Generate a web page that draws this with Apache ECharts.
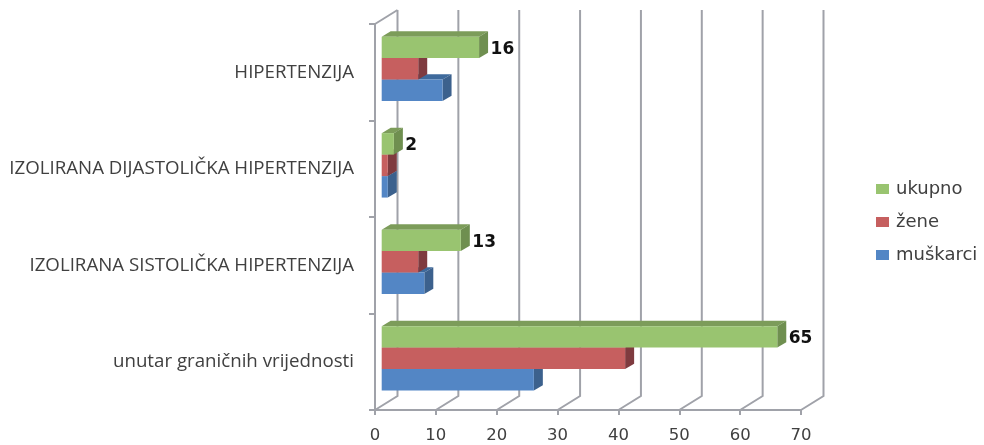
<!DOCTYPE html>
<html><head><meta charset="utf-8">
<script src="https://cdn.jsdelivr.net/npm/echarts@6/dist/echarts.min.js"></script>
<style>html,body{margin:0;padding:0;background:#fff}#c{width:984px;height:445px}</style>
</head><body><div id="c"></div>
<script>
const categories = ['unutar graničnih vrijednosti','IZOLIRANA SISTOLIČKA HIPERTENZIJA','IZOLIRANA DIJASTOLIČKA HIPERTENZIJA','HIPERTENZIJA'];
const muskarci = [25, 7, 1, 10];
const zene = [40, 6, 1, 6];
const ukupno = [65, 13, 2, 16];
const xTicks = [0,10,20,30,40,50,60,70];

const chart = echarts.init(document.getElementById('c'), null, {renderer:'canvas'});
const GRID = '#a0a2a9';
const styles = {
  'muškarci': {front:'#5386C5', top:'#3E6A9C', side:'#3C618D', slot:1},
  'žene': {front:'#C65F5F', top:'#9A4A4A', side:'#7F3B3F', slot:0},
  'ukupno': {front:'#99C470', top:'#7C9C5A', side:'#6F8F50', slot:-1, label:true}
};
function barRender(name){
  const s = styles[name];
  return function(params, api){
    const idx = api.value(1), v = api.value(0);
    const band = api.size([0,1])[1];
    const h = band*0.2225;
    const x0 = api.coord([0,idx])[0]+6.7;
    const x1 = api.coord([v,idx])[0]+6.7;
    const cy = api.coord([0,idx])[1]-3.4;
    const y0 = cy + h*(s.slot-0.5);
    const y1 = y0+h;
    const dx=9, dy=-5.3;
    const children = [
      {type:'polygon',shape:{points:[[x0,y0],[x1,y0],[x1+dx,y0+dy],[x0+dx,y0+dy]]},style:{fill:s.top}},
      {type:'polygon',shape:{points:[[x1,y0],[x1+dx,y0+dy],[x1+dx,y1+dy],[x1,y1]]},style:{fill:s.side}},
      {type:'rect',shape:{x:x0,y:y0,width:x1-x0,height:h},style:{fill:s.front}}
    ];
    if(s.label) children.push({type:'text',x:x1+dx+2.5,y:y0+h/2+2,style:{text:String(v),fill:'#111',font:'bold 17px "DejaVu Sans"',textVerticalAlign:'middle',textAlign:'left'}});
    return {type:'group',children};
  };
}
function wallRender(params, api){
  const v = api.value(0);
  const cs = params.coordSys;
  const x = api.coord([v,0])[0];
  const bottom = cs.y+cs.height, dx=22.5, dy=-14;
  const top = cs.y+dy;
  const st = {stroke:GRID,lineWidth:2,fill:null};
  const children = [{type:'polyline',shape:{points:[[x,bottom],[x+dx,bottom+dy],[x+dx,top]]},style:st}];
  if(v===0) children.push({type:'line',shape:{x1:x,y1:cs.y,x2:x+dx,y2:top},style:st});
  return {type:'group',children};
}
function barSeries(name, arr){
  return {name,type:'custom',renderItem:barRender(name),z:3,
    itemStyle:{color:styles[name].front},
    encode:{x:0,y:1},
    data:arr.map((v,i)=>[v,i])};
}
chart.setOption({
  animation:false,
  backgroundColor:'#fff',
  grid:{left:375,right:183,top:24,bottom:35,containLabel:false},
  legend:{
    left:871,top:174,orient:'vertical',icon:'rect',itemWidth:13,itemHeight:10,itemGap:13,
    data:['ukupno','žene','muškarci'],
    textStyle:{fontFamily:'"DejaVu Sans"',fontSize:18,color:'#404040',lineHeight:20,padding:[0,0,0,2]}
  },
  xAxis:{type:'value',min:0,max:70,interval:10,
    axisLine:{show:true,onZero:false,lineStyle:{color:GRID,width:2}},
    axisTick:{show:true,length:5,lineStyle:{color:GRID,width:2}},
    splitLine:{show:false},
    axisLabel:{margin:17,fontFamily:'"DejaVu Sans"',fontSize:16.5,color:'#404040',formatter:v=>String(v)}
  },
  yAxis:{type:'category',data:categories,
    axisLine:{show:true,onZero:false,lineStyle:{color:GRID,width:2}},
    axisTick:{show:true,length:6,alignWithLabel:false,lineStyle:{color:GRID,width:2}},
    axisLabel:{margin:21,fontFamily:'"Open Sans"',fontSize:18.7,color:'#404040',padding:[2,0,0,0]}
  },
  series:[
    {type:'custom',name:'wall',renderItem:wallRender,z:1,encode:{x:0},silent:true,data:xTicks.map(v=>[v])},
    barSeries('muškarci',muskarci),
    barSeries('žene',zene),
    barSeries('ukupno',ukupno)
  ]
});
</script></body></html>
